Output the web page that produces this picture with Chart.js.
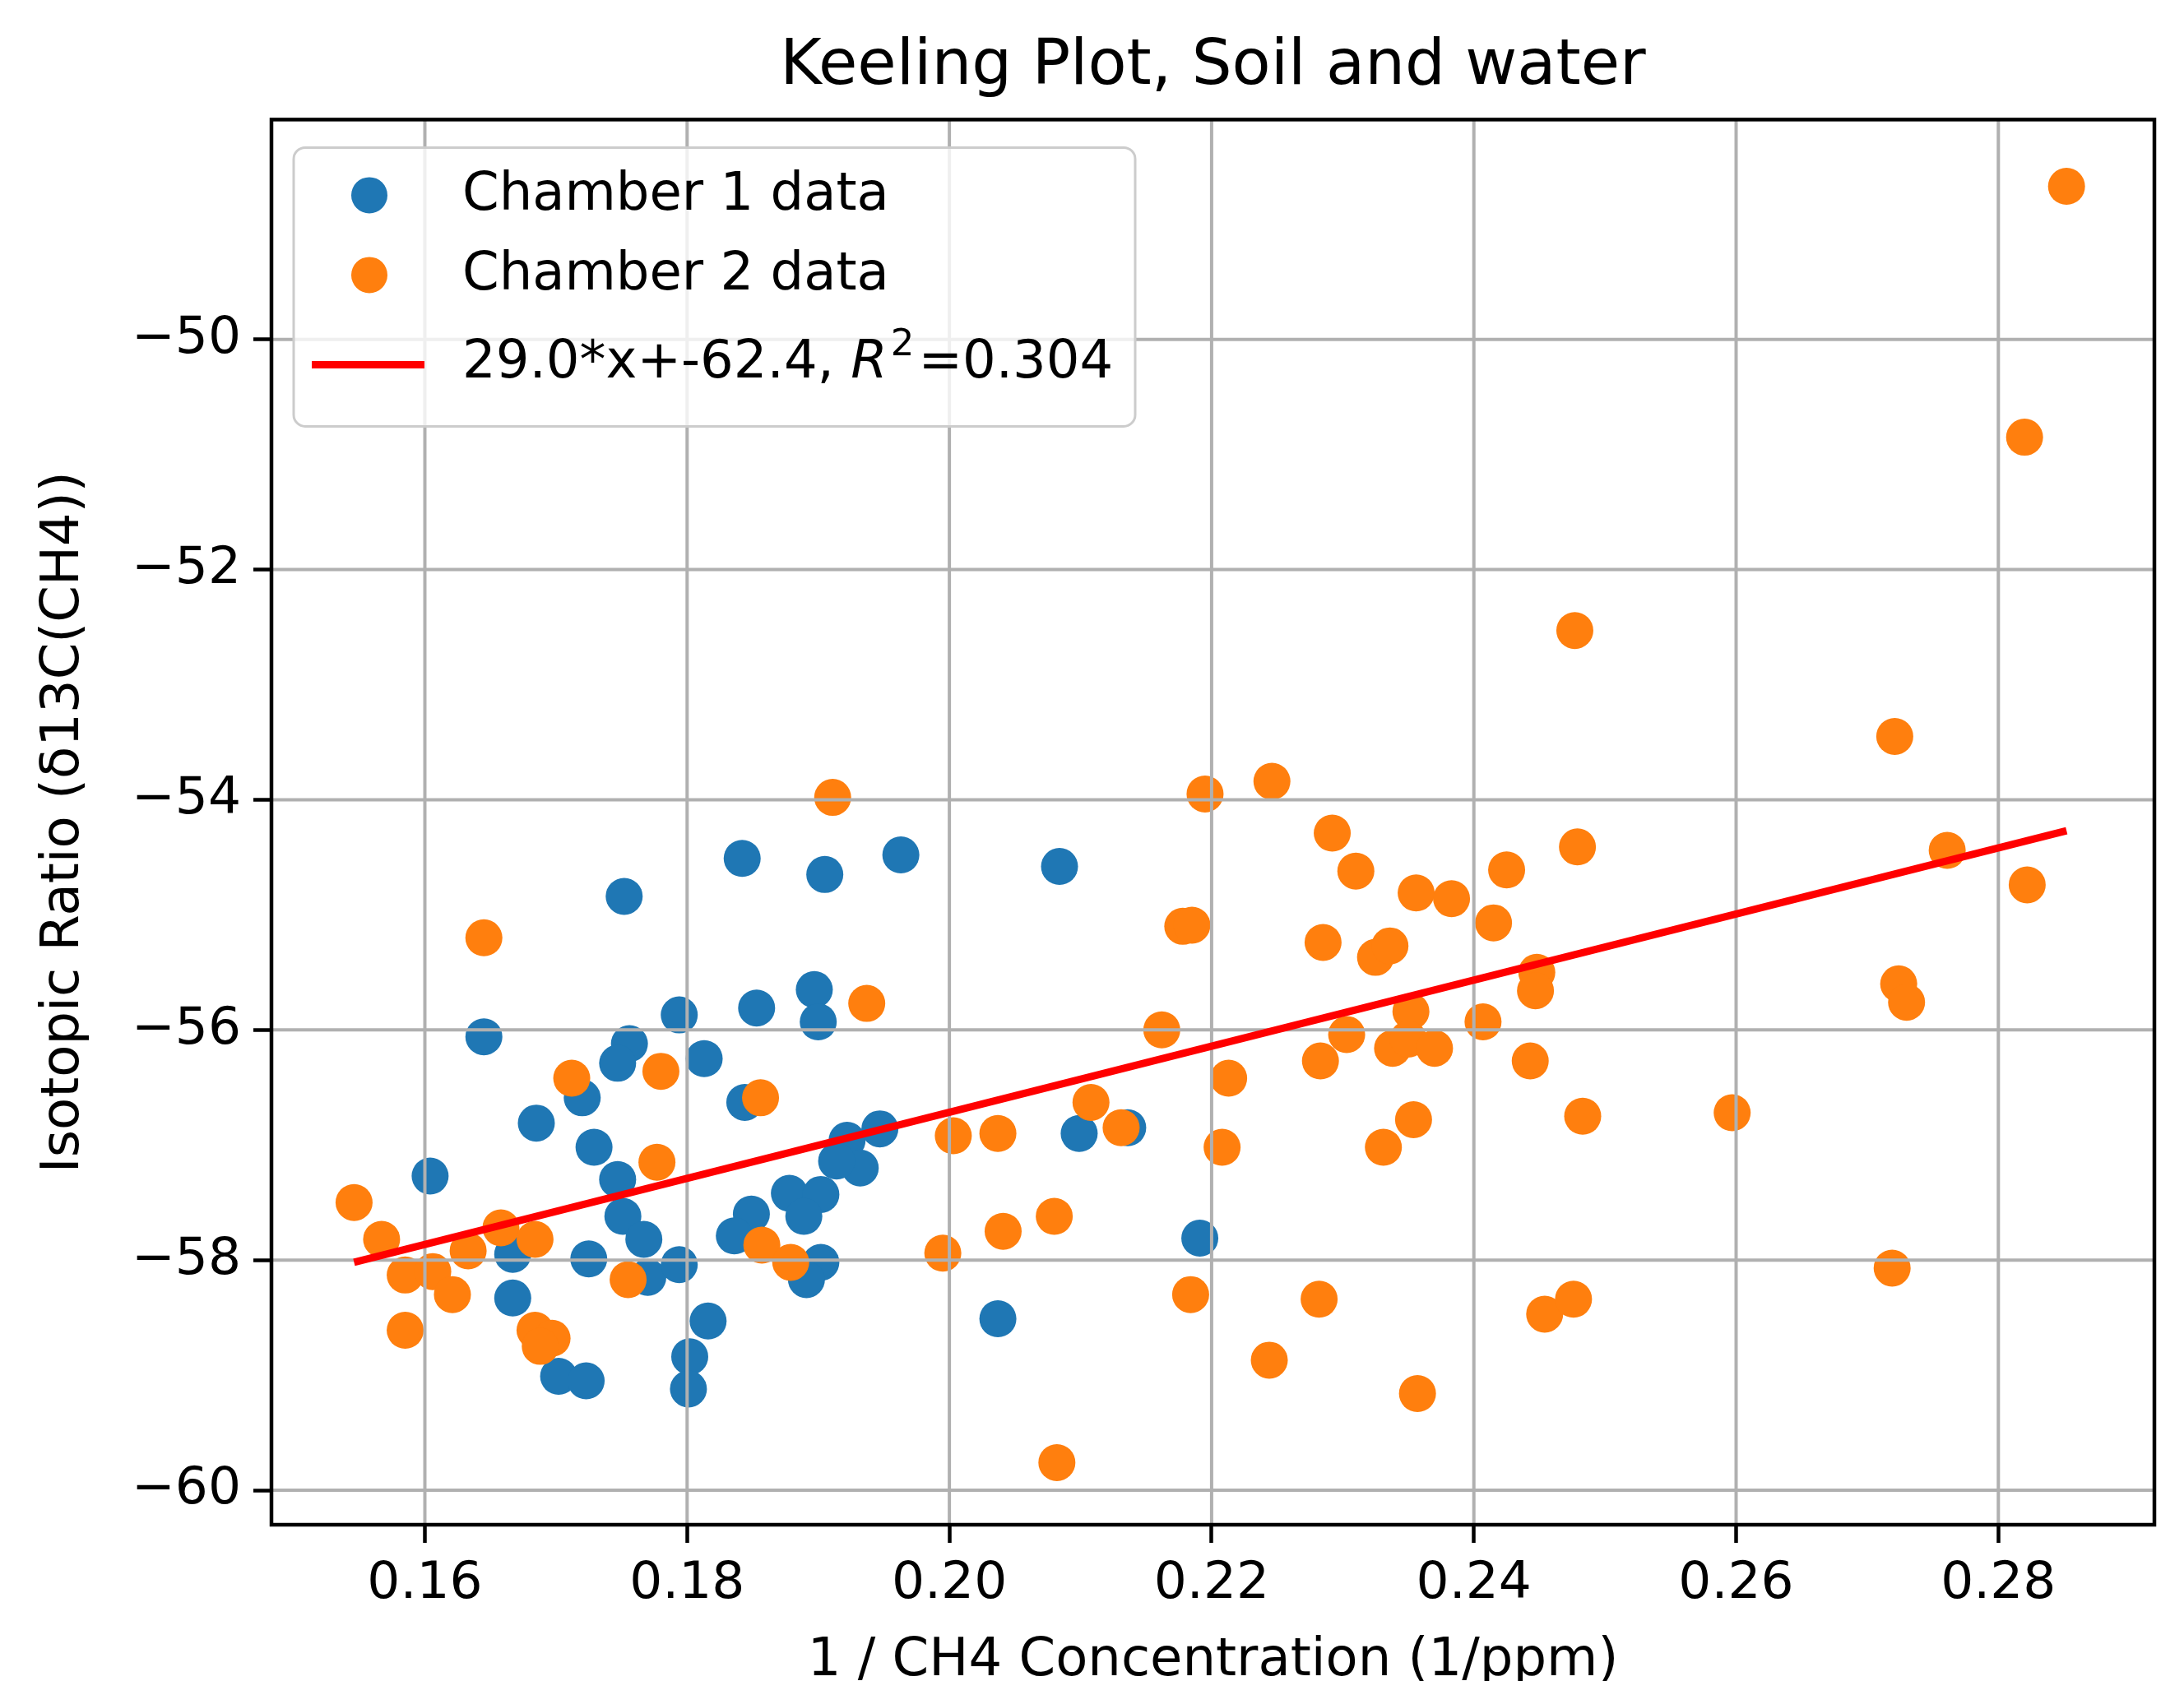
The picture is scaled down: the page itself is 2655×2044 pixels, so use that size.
<!DOCTYPE html>
<html><head><meta charset="utf-8">
<script src="https://cdn.jsdelivr.net/npm/chart.js@4/dist/chart.umd.min.js"></script>
<style>html,body{margin:0;padding:0;background:#fff;overflow:hidden}</style>
</head><body><canvas id="c" width="2655" height="2044"></canvas>
<script>
const chartTitle = 'Keeling Plot, Soil and water';
const xAxisTitle = '1 / CH4 Concentration (1/ppm)';
const yAxisTitle = 'Isotopic Ratio (δ13C(CH4))';
const seriesNames = ['Chamber 1 data', 'Chamber 2 data', '29.0*x+-62.4, R²=0.304'];

const xTicks = [0.16, 0.18, 0.20, 0.22, 0.24, 0.26, 0.28];
const xTickLabels = ['0.16', '0.18', '0.20', '0.22', '0.24', '0.26', '0.28'];
const yTicks = [-60, -58, -56, -54, -52, -50];
const yTickLabels = ['\u221260', '\u221258', '\u221256', '\u221254', '\u221252', '\u221250'];
const xRange = [0.1483, 0.2919];
const yRange = [-60.30, -48.09];

const chamber1X = [0.1604, 0.1645, 0.1752, 0.1685, 0.1794, 0.1756, 0.1747, 0.1720, 0.1729, 0.1747,
  0.1751, 0.1767, 0.1770, 0.1667, 0.1667, 0.1702, 0.1723, 0.1725, 0.1794, 0.1816,
  0.1802, 0.1801, 0.1813, 0.1842, 0.1905, 0.1963, 0.1853, 0.1897, 0.1900, 0.1844,
  0.1849, 0.1836, 0.1878, 0.1902, 0.1889, 0.1902, 0.1891, 0.1922, 0.1947, 0.1932,
  0.1914, 0.2084, 0.2099, 0.2136, 0.2191, 0.2037];
const chamber1Y = [-57.27, -56.06, -54.84, -56.81, -55.87, -56.12, -56.29, -56.59, -57.02, -57.30,
  -57.62, -57.82, -58.15, -57.95, -58.33, -59.01, -59.05, -57.99, -58.04, -58.53,
  -58.84, -59.12, -56.25, -54.51, -54.65, -54.48, -55.81, -55.65, -55.93, -56.63,
  -57.60, -57.79, -57.42, -57.43, -57.62, -58.02, -58.17, -56.96, -56.86, -57.20,
  -57.14, -54.58, -56.90, -56.85, -57.81, -58.51];

const chamber2X = [0.1546, 0.1567, 0.1585, 0.1606, 0.1621, 0.1585, 0.1633, 0.1658, 0.1684, 0.1684,
  0.1697, 0.1688, 0.1645, 0.1712, 0.1780, 0.1777, 0.1755, 0.1856, 0.1857, 0.1879,
  0.1911, 0.1937, 0.2003, 0.2037, 0.1995, 0.2041, 0.2080, 0.2082, 0.2108, 0.2131,
  0.2162, 0.2178, 0.2185, 0.2195, 0.2246, 0.2213, 0.2208, 0.2184, 0.2244, 0.2282,
  0.2283, 0.2285, 0.2292, 0.2310, 0.2303, 0.2325, 0.2336, 0.2338, 0.2331, 0.2352,
  0.2350, 0.2356, 0.2354, 0.2370, 0.2357, 0.2383, 0.2407, 0.2415, 0.2425, 0.2443,
  0.2448, 0.2447, 0.2454, 0.2476, 0.2477, 0.2479, 0.2483, 0.2597, 0.2719, 0.2721,
  0.2724, 0.2730, 0.2761, 0.2820, 0.2822, 0.2852];
const chamber2Y = [-57.50, -57.82, -58.13, -58.10, -58.30, -58.61, -57.92, -57.72, -57.82, -58.61,
  -58.68, -58.75, -55.20, -56.42, -56.36, -57.15, -58.17, -56.59, -57.87, -58.02,
  -53.98, -55.77, -56.92, -56.90, -57.94, -57.75, -57.62, -59.76, -56.63, -56.85,
  -56.00, -55.10, -55.09, -53.95, -53.84, -56.42, -57.02, -58.30, -58.87, -58.34,
  -56.27, -55.24, -54.29, -54.62, -56.04, -55.37, -55.27, -56.16, -57.02, -55.84,
  -56.08, -54.81, -56.78, -56.16, -59.16, -54.86, -55.93, -55.07, -54.61, -56.27,
  -55.50, -55.66, -58.47, -58.34, -52.53, -54.41, -56.75, -56.72, -58.07, -53.45,
  -55.60, -55.76, -54.44, -50.85, -54.74, -48.67];

const fitX = [0.1546, 0.2852];
const fitY = [-58.02, -54.27];

const FONT = '"DejaVu Sans"';
const toPts = (xs, ys) => xs.map((x, i) => ({x: x, y: ys[i]}));

const gridPlugin = {
  id: 'mplGrid',
  beforeDatasetDraw(chart, args) {
    if (args.index !== 2) return;
    const ctx = chart.ctx, a = chart.chartArea;
    const xs = chart.scales.x, ys = chart.scales.y;
    ctx.save();
    ctx.strokeStyle = '#b0b0b0';
    ctx.lineWidth = 4;
    xs.ticks.forEach(t => {
      const p = xs.getPixelForValue(t.value);
      ctx.beginPath(); ctx.moveTo(p, a.top); ctx.lineTo(p, a.bottom); ctx.stroke();
    });
    ys.ticks.forEach(t => {
      const p = ys.getPixelForValue(t.value);
      ctx.beginPath(); ctx.moveTo(a.left, p); ctx.lineTo(a.right, p); ctx.stroke();
    });
    ctx.restore();
  }
};

const frameLegendPlugin = {
  id: 'mplFrameLegend',
  afterDatasetsDraw(chart) {
    const ctx = chart.ctx, a = chart.chartArea;
    ctx.save();
    ctx.strokeStyle = '#000';
    ctx.lineWidth = 4.5;
    ctx.strokeRect(a.left, a.top, a.right - a.left, a.bottom - a.top);

    const bx = a.left + 27, by = a.top + 34, bw = 1023, bh = 339;
    ctx.beginPath();
    ctx.roundRect(bx, by, bw, bh, 14);
    ctx.fillStyle = 'rgba(255,255,255,0.8)';
    ctx.fill();
    ctx.strokeStyle = '#cccccc';
    ctx.lineWidth = 3;
    ctx.stroke();

    const ds = chart.data.datasets;
    const baselines = [by + 76, by + 173, by + 280];
    const markX = bx + 92, textX = bx + 205;
    ctx.textBaseline = 'alphabetic';
    ctx.textAlign = 'left';
    ctx.fillStyle = '#000';
    for (let i = 0; i < 2; i++) {
      ctx.beginPath();
      ctx.arc(markX, baselines[i] - 18, 22, 0, Math.PI * 2);
      ctx.fillStyle = ds[i].backgroundColor;
      ctx.fill();
      ctx.fillStyle = '#000';
      ctx.font = '64px ' + FONT;
      ctx.fillText(ds[i].label, textX, baselines[i]);
    }
    ctx.beginPath();
    ctx.moveTo(bx + 22, baselines[2] - 16);
    ctx.lineTo(bx + 159, baselines[2] - 16);
    ctx.strokeStyle = ds[2].borderColor;
    ctx.lineWidth = 9;
    ctx.stroke();
    const parts = ds[2].label.split('R\u00b2');
    let x = textX;
    const b = baselines[2];
    ctx.fillStyle = '#000';
    ctx.font = '64px ' + FONT;
    ctx.fillText(parts[0], x, b); x += ctx.measureText(parts[0]).width;
    ctx.font = 'italic 64px ' + FONT;
    ctx.fillText('R', x, b); x += ctx.measureText('R').width + 4;
    ctx.font = '45px ' + FONT;
    ctx.fillText('2', x, b - 27); x += ctx.measureText('2').width + 5;
    ctx.font = '64px ' + FONT;
    ctx.fillText(parts[1], x, b);
    ctx.restore();
  }
};

new Chart(document.getElementById('c'), {
  type: 'scatter',
  data: {
    datasets: [
      { label: seriesNames[0], data: toPts(chamber1X, chamber1Y), backgroundColor: '#1f77b4',
        borderWidth: 0, pointRadius: 22.5, pointHoverRadius: 22.5, order: 2 },
      { label: seriesNames[1], data: toPts(chamber2X, chamber2Y), backgroundColor: '#ff7f0e',
        borderWidth: 0, pointRadius: 22.5, pointHoverRadius: 22.5, order: 1 },
      { type: 'line', label: seriesNames[2], data: toPts(fitX, fitY), showLine: true,
        borderColor: '#ff0000', backgroundColor: '#ff0000', borderWidth: 9, pointRadius: 0,
        fill: false, tension: 0, order: 0 }
    ]
  },
  options: {
    responsive: false,
    devicePixelRatio: 1,
    animation: false,
    events: [],
    layout: { padding: { left: 0, right: 36, top: 0, bottom: 0 } },
    plugins: {
      legend: { display: false },
      tooltip: { enabled: false },
      title: {
        display: true, text: chartTitle, color: '#000', fullSize: false,
        font: { family: FONT, size: 77, weight: 'normal', lineHeight: 1.2 },
        padding: { top: 36, bottom: 17 }
      }
    },
    scales: {
      x: {
        type: 'linear', position: 'bottom', min: xRange[0], max: xRange[1],
        afterBuildTicks: s => { s.ticks = xTicks.map(v => ({ value: v })); },
        afterFit: s => { s.height = 190; },
        ticks: { color: '#000', padding: 13, maxRotation: 0, autoSkip: false,
          font: { family: FONT, size: 63 },
          callback: (v, i) => xTickLabels[i] },
        grid: { display: true, drawOnChartArea: false, drawTicks: true, tickLength: 22,
          tickWidth: 4.5, tickColor: '#000' },
        border: { display: false },
        title: { display: true, text: xAxisTitle, color: '#000',
          font: { family: FONT, size: 64, lineHeight: 0.75 }, padding: { top: 0, bottom: 0 } }
      },
      y: {
        type: 'linear', position: 'left', min: yRange[0], max: yRange[1],
        afterBuildTicks: s => { s.ticks = yTicks.map(v => ({ value: v })); },
        afterFit: s => { s.width = 330; },
        ticks: { color: '#000', padding: 15, autoSkip: false,
          font: { family: FONT, size: 63 },
          callback: (v, i) => yTickLabels[i] },
        grid: { display: true, drawOnChartArea: false, drawTicks: true, tickLength: 22,
          tickWidth: 4.5, tickColor: '#000' },
        border: { display: false },
        title: { display: true, text: yAxisTitle, color: '#000',
          font: { family: FONT, size: 64, lineHeight: 1.2 }, padding: { top: 40, bottom: 0 } }
      }
    }
  },
  plugins: [gridPlugin, frameLegendPlugin]
});
</script>
</body></html>
